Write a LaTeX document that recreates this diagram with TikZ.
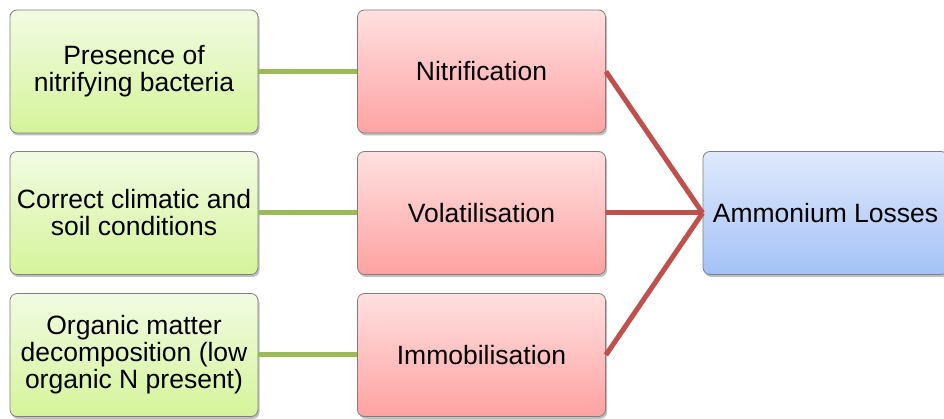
\documentclass[tikz,border=0pt]{standalone}
\usepackage{fontspec}
\setmainfont{Liberation Sans}
\usetikzlibrary{shadows}
\definecolor{gtop}{HTML}{F2FBE3}
\definecolor{gbot}{HTML}{D5F49A}
\definecolor{ptop}{HTML}{FFE0E0}
\definecolor{pbot}{HTML}{FFA2A2}
\definecolor{btop}{HTML}{DFE9FC}
\definecolor{bbot}{HTML}{A4C2F7}
\definecolor{gline}{HTML}{9BBB59}
\definecolor{rline}{HTML}{C0504D}
\definecolor{edge}{HTML}{7F7F7F}
\tikzset{
  box/.style={rectangle, rounded corners=7pt, draw=edge, line width=0.8pt,
    minimum width=248pt, minimum height=123pt, align=center, inner sep=1pt,
    font=\fontsize{26.5}{27}\selectfont,
    drop shadow={shadow xshift=1.5pt, shadow yshift=-2.5pt, opacity=0.25, fill=black}},
  gbox/.style={box, top color=gtop, bottom color=gbot},
  pbox/.style={box, top color=ptop, bottom color=pbot},
  bbox/.style={box, top color=btop, bottom color=bbot, minimum width=245pt},
  gconn/.style={draw=gline, line width=5pt},
  rconn/.style={draw=rline, line width=5pt}
}
\begin{document}
\begin{tikzpicture}[x=1pt,y=1pt]
\useasboundingbox (0,0) rectangle (944,419);
\fill[white] (0,0) rectangle (944,419);
\node[gbox] (g1) at (134,347.5) {Presence of\\nitrifying bacteria};
\node[gbox] (g2) at (134,206) {Correct climatic and\\soil conditions};
\node[gbox] (g3) at (134,64) {Organic matter\\decomposition (low\\organic N present)};
\node[pbox] (p1) at (481.5,347.5) {Nitrification};
\node[pbox] (p2) at (481.5,206) {Volatilisation};
\node[pbox] (p3) at (481.5,64) {Immobilisation};
\node[bbox] (b) at (825.5,206) {Ammonium Losses};
\draw[gconn] (g1.east) -- (p1.west);
\draw[gconn] (g2.east) -- (p2.west);
\draw[gconn] (g3.east) -- (p3.west);
\draw[rconn] (p1.east) -- (b.west);
\draw[rconn] (p2.east) -- (b.west);
\draw[rconn] (p3.east) -- (b.west);
\end{tikzpicture}
\end{document}
